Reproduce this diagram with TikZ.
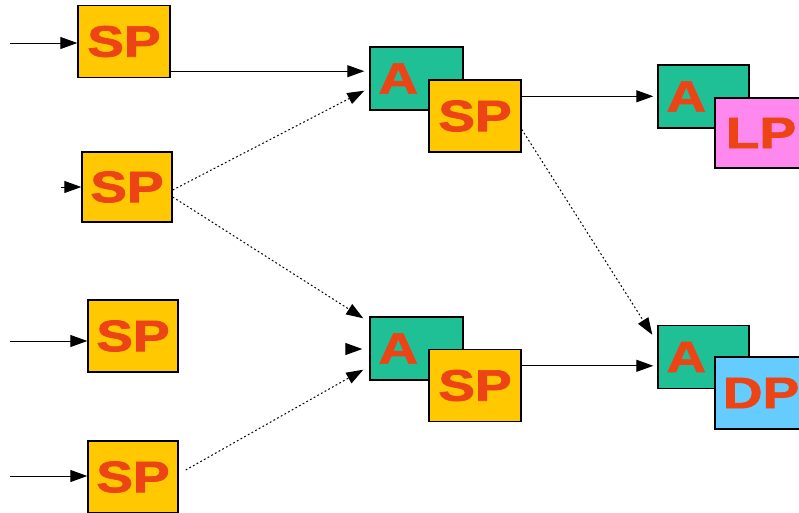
\documentclass[tikz,border=0pt]{standalone}
\usepackage{fontspec}
\setmainfont{Liberation Sans}[BoldFeatures={FakeBold=1.6}]
\usetikzlibrary{arrows.meta,calc}
\definecolor{spfill}{HTML}{FFC800}
\definecolor{afill}{HTML}{20C096}
\definecolor{lpfill}{HTML}{FF88EE}
\definecolor{dpfill}{HTML}{66CCFF}
\definecolor{lbltext}{HTML}{EC4414}
\newcommand\boxlbl[1]{\scalebox{1.25}[1]{#1}}
\tikzset{
  blk/.style={draw=black, line width=1.4pt, inner sep=0pt,
    minimum width=92pt, minimum height=72pt,
    font=\fontsize{44}{44}\selectfont\bfseries, text=lbltext},
  spbox/.style={blk, fill=spfill},
  abox/.style={blk, fill=afill, minimum width=93pt, minimum height=63pt},
  lpbox/.style={blk, fill=lpfill, minimum height=70pt},
  dpbox/.style={blk, fill=dpfill},
  atext/.style={font=\fontsize{44}{44}\selectfont\bfseries, text=lbltext, inner sep=0pt},
  flow/.style={line width=1pt, -{Triangle[length=17pt,width=12pt]}},
  dflow/.style={flow, dash pattern=on 1.8pt off 2.4pt},
}
\begin{document}
\begin{tikzpicture}[x=1pt,y=-1pt]
\useasboundingbox (0,0) rectangle (799,512);
\clip (0,0) rectangle (799,512);

% input stage
\node[spbox] (sp1) at (124,41.5) {\boxlbl{SP}};
\node[spbox, minimum width=90pt, minimum height=70pt] (sp2) at (127,187) {\boxlbl{SP}};
\node[spbox, minimum width=90pt] (sp3) at (133,336) {\boxlbl{SP}};
\node[spbox, minimum width=90pt] (sp4) at (133,477) {\boxlbl{SP}};

% middle stage
\node[abox] (a1) at (416.5,78.5) {};
\node[atext] (a1t) at ([xshift=29pt]a1.west) {\boxlbl{A}};
\node[spbox] (m1) at (475,116) {\boxlbl{SP}};
\node[abox] (a2) at (416.5,348.5) {};
\node[atext] (a2t) at ([xshift=29pt]a2.west) {\boxlbl{A}};
\node[spbox] (m2) at (475,385.5) {\boxlbl{SP}};

% output stage
\node[abox, minimum width=91pt] (a3) at (703.5,96.5) {};
\node[atext] (a3t) at ([xshift=29pt]a3.west) {\boxlbl{A}};
\node[lpbox] (lp) at (761,133) {\boxlbl{LP}};
\node[abox, minimum width=91pt] (a4) at (703.5,357) {};
\node[atext] (a4t) at ([xshift=29pt]a4.west) {\boxlbl{A}};
\node[dpbox] (dp) at (761,393) {\boxlbl{DP}};

% free ends of the inputs
\coordinate (in1) at (10,43);
\coordinate (in2) at (61,187);
\coordinate (in3) at (10,341);
\coordinate (in4) at (10,476);
\coordinate (in5) at (346,349);

% inputs
\draw[flow] (in1) -- (sp1.west |- in1);
\draw[flow] (in2) -- (sp2.west |- in2);
\draw[flow] (in3) -- (sp3.west |- in3);
\draw[flow] (in4) -- (sp4.west |- in4);
\draw[flow, shorten >=7pt] (in5) -- (a2.west |- in5);

% first to second stage
\coordinate (s1o) at ($(sp1.south east)+(0,-7)$);
\draw[flow, shorten >=5pt] (s1o) -- (a1.west |- s1o);
\draw[dflow] ($(sp2.east)+(0,3)$) -- ($(a1.south west)+(-5,-20)$);
\draw[dflow] ($(sp2.east)+(0,10)$) -- ($(a2.north west)+(-6,2)$);
\draw[dflow] ($(sp4.east)+(7,-7)$) -- ($(a2.south west)+(-6,-11)$);

% second to third stage
\coordinate (m1o) at ($(m1.north east)+(0,17)$);
\draw[flow, shorten >=4pt] (m1o) -- (a3.west |- m1o);
\draw[dflow] ($(m1.north east)+(0,50)$) -- ($(a4.north west)+(-5,10)$);
\coordinate (m2o) at ($(m2.north east)+(0,17)$);
\draw[flow, shorten >=4pt] (m2o) -- (a4.west |- m2o);
\end{tikzpicture}
\end{document}
